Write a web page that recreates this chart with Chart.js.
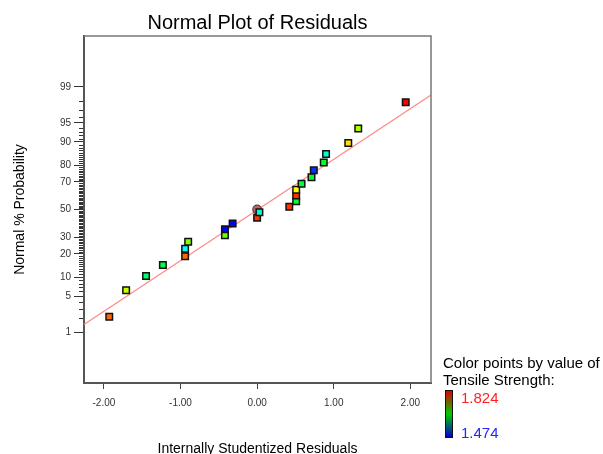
<!DOCTYPE html>
<html>
<head>
<meta charset="utf-8">
<title>Normal Plot of Residuals</title>
<script src="https://cdn.jsdelivr.net/npm/chart.js@4.4.1/dist/chart.umd.min.js"></script>
<style>
    html, body { margin: 0; padding: 0; background: #fff; }
    #residuals-chart { display: block; }
</style>
</head>
<body>
<canvas id="residuals-chart" width="603" height="454"></canvas>
<script>
const FONT = '"Liberation Sans", Arial, sans-serif';

//data
const residuals = [-1.93, -1.71, -1.45, -1.23, -0.94, -0.94, -0.90, -0.42, -0.42, -0.32, 0.00, 0.03,
                   0.42, 0.51, 0.51, 0.51, 0.58, 0.71, 0.74, 0.87, 0.90, 1.19, 1.32, 1.94];
const probability = [2.1, 6.3, 10.4, 14.6, 18.8, 22.9, 27.1, 31.3, 35.4, 39.6, 43.8, 47.9,
                     52.1, 56.3, 60.4, 64.6, 68.8, 72.9, 77.1, 81.3, 85.4, 89.6, 93.8, 97.9];
const strength = [1.789, 1.719, 1.614, 1.625, 1.789, 1.562, 1.695, 1.684, 1.474, 1.476, 1.806, 1.579,
                  1.806, 1.631, 1.806, 1.737, 1.631, 1.638, 1.492, 1.638, 1.579, 1.747, 1.709, 1.824];
const markedX = [0.00];
const markedP = [50];
const fitX = [-2.26, 2.27];
const fitP = [1.46, 98.5];

const xTicks = [-2, -1, 0, 1, 2];
const yTickPercents = [1, 5, 10, 20, 30, 50, 70, 80, 90, 95, 99];
const strengthMin = 1.474;
const strengthMax = 1.824;

//inverse normal cdf (Acklam)
function probit(p) {
    const a = [-3.969683028665376e+01, 2.209460984245205e+02, -2.759285104469687e+02, 1.383577518672690e+02, -3.066479806614716e+01, 2.506628277459239e+00];
    const b = [-5.447609879822406e+01, 1.615858368580409e+02, -1.556989798598866e+02, 6.680131188771972e+01, -1.328068155288572e+01];
    const c = [-7.784894002430293e-03, -3.223964580411365e-01, -2.400758277161838e+00, -2.549732539343734e+00, 4.374664141464968e+00, 2.938163982698783e+00];
    const d = [7.784695709041462e-03, 3.224671290700398e-01, 2.445134137142996e+00, 3.754408661907416e+00];
    const pl = 0.02425;
    let q, r;
    if (p < pl) {
        q = Math.sqrt(-2 * Math.log(p));
        return (((((c[0]*q+c[1])*q+c[2])*q+c[3])*q+c[4])*q+c[5]) / ((((d[0]*q+d[1])*q+d[2])*q+d[3])*q+1);
    }
    if (p > 1 - pl) {
        q = Math.sqrt(-2 * Math.log(1 - p));
        return -(((((c[0]*q+c[1])*q+c[2])*q+c[3])*q+c[4])*q+c[5]) / ((((d[0]*q+d[1])*q+d[2])*q+d[3])*q+1);
    }
    q = p - 0.5;
    r = q * q;
    return (((((a[0]*r+a[1])*r+a[2])*r+a[3])*r+a[4])*r+a[5])*q / (((((b[0]*r+b[1])*r+b[2])*r+b[3])*r+b[4])*r+1);
}

const toPoints = (xs, ps) => xs.map((x, i) => ({ x: x, y: probit(ps[i] / 100) }));

//blue -> green -> red by tensile strength
const strengthColor = (v) => {
    const t = (v - strengthMin) / (strengthMax - strengthMin);
    return `hsl(${Math.round(240 * (1 - t))}, 100%, 50%)`;
};

//frame, minor ticks, titles and colour key
const decorPlugin = {
    id: 'decor',
    afterDraw(chart) {
        const { ctx, chartArea: a } = chart;
        const y = chart.scales.y;
        ctx.save();

        ctx.strokeStyle = '#777';
        ctx.lineWidth = 1.5;
        ctx.beginPath();
        ctx.moveTo(a.left, a.top);
        ctx.lineTo(a.right, a.top);
        ctx.lineTo(a.right, a.bottom);
        ctx.stroke();

        ctx.strokeStyle = '#333';
        ctx.lineWidth = 1;
        for (let p = 1; p < 100; p++) {
            if (yTickPercents.includes(p)) continue;
            const py = Math.round(y.getPixelForValue(probit(p / 100))) + 0.5;
            ctx.beginPath();
            ctx.moveTo(a.left - 5, py);
            ctx.lineTo(a.left - 1, py);
            ctx.stroke();
        }

        ctx.fillStyle = '#000';
        ctx.textBaseline = 'alphabetic';
        ctx.textAlign = 'center';
        ctx.font = `20px ${FONT}`;
        ctx.fillText('Normal Plot of Residuals', (a.left + a.right) / 2, 29);

        ctx.font = `14px ${FONT}`;
        ctx.fillText('Internally Studentized Residuals', (a.left + a.right) / 2, 453);

        ctx.save();
        ctx.translate(24, (a.top + a.bottom) / 2);
        ctx.rotate(-Math.PI / 2);
        ctx.fillText('Normal % Probability', 0, 0);
        ctx.restore();

        //colour key
        ctx.textAlign = 'left';
        ctx.font = `15px ${FONT}`;
        ctx.fillText('Color points by value of', 443, 368);
        ctx.fillText('Tensile Strength:', 443, 385);

        const grad = ctx.createLinearGradient(0, 391, 0, 437);
        grad.addColorStop(0, '#dd0000');
        grad.addColorStop(0.5, '#00cc00');
        grad.addColorStop(1, '#0000cc');
        ctx.fillStyle = grad;
        ctx.fillRect(446, 391, 6, 46);
        ctx.strokeStyle = '#111';
        ctx.strokeRect(445.5, 390.5, 7, 47);

        ctx.fillStyle = '#ff2020';
        ctx.fillText(strengthMax.toFixed(3), 461, 403);
        ctx.fillStyle = '#2424ff';
        ctx.fillText(strengthMin.toFixed(3), 461, 438);

        ctx.restore();
    }
};

const residualsCanvas = document.getElementById('residuals-chart');

let residualsChart = new Chart(residualsCanvas, {
    type: 'scatter',
    data: {
        datasets: [{
            data: toPoints(residuals, probability),
            pointStyle: 'rect',
            pointRadius: 4.6,
            backgroundColor: strength.map(strengthColor),
            borderColor: '#111',
            borderWidth: 1.5,
        }, {
            data: toPoints(markedX, markedP),
            pointStyle: 'circle',
            pointRadius: 4.3,
            backgroundColor: '#c06464',
            borderColor: '#444',
            borderWidth: 1.2,
        }, {
            data: toPoints(fitX, fitP),
            showLine: true,
            pointRadius: 0,
            borderColor: '#ff8a8a',
            borderWidth: 1.3,
        }]
    },
    options: {
        responsive: false,
        devicePixelRatio: 1,
        animation: false,
        layout: {
            padding: { top: 36, right: 172, bottom: 0, left: 0 }
        },
        scales: {
            x: {
                type: 'linear',
                min: -2.26,
                max: 2.27,
                afterBuildTicks: (scale) => {
                    scale.ticks = xTicks.map(v => ({ value: v }));
                },
                afterFit: (scale) => {
                    scale.height = 71;
                },
                ticks: {
                    callback: (value) => value.toFixed(2),
                    font: { family: FONT, size: 10 },
                    color: '#333',
                    padding: 8,
                    maxRotation: 0,
                    autoSkip: false,
                },
                grid: {
                    drawOnChartArea: false,
                    tickLength: 6,
                    color: '#444',
                },
                border: { color: '#555', width: 2 },
            },
            y: {
                type: 'linear',
                min: -3.29,
                max: 3.29,
                afterBuildTicks: (scale) => {
                    scale.ticks = yTickPercents.map(p => ({ value: probit(p / 100) }));
                },
                afterFit: (scale) => {
                    scale.width = 84;
                },
                ticks: {
                    callback: (value, index) => yTickPercents[index],
                    font: { family: FONT, size: 10 },
                    color: '#333',
                    padding: 3,
                    autoSkip: false,
                },
                grid: {
                    drawOnChartArea: false,
                    tickLength: 10,
                    color: '#333',
                },
                border: { color: '#555', width: 2 },
            }
        },
        plugins: {
            legend: { display: false },
            tooltip: { enabled: false },
        }
    },
    plugins: [decorPlugin],
});
</script>
</body>
</html>
